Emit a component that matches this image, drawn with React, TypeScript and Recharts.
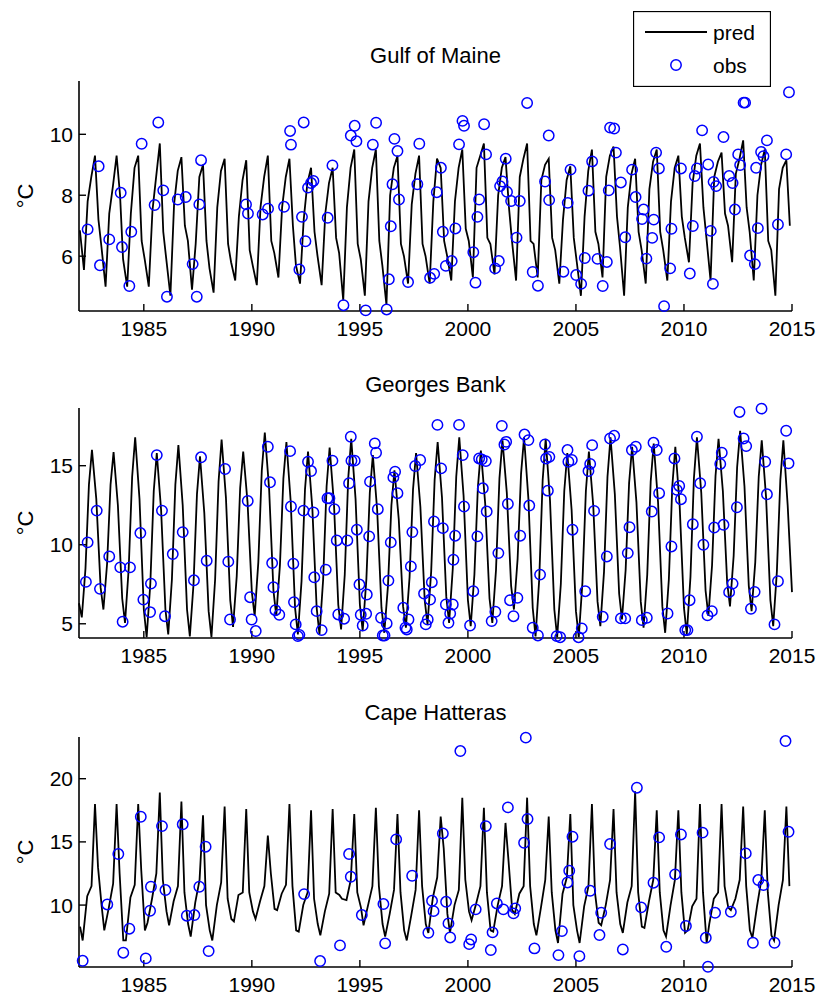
import React from "react";
import { ComposedChart, Line, Scatter, XAxis, YAxis, Legend } from "recharts";

const FONT = '"Liberation Sans", Arial, Helvetica, sans-serif';

const yearTicks = [1985, 1990, 1995, 2000, 2005, 2010, 2015];

// sample times inside each year (fraction of year) for the pred curves
const gomMonths = [0.04, 0.23, 0.4, 0.57, 0.74, 0.9];
const gbMonths = [0.0, 0.13, 0.3, 0.46, 0.6, 0.8];
const chMonths = [0.05, 0.17, 0.38, 0.58, 0.74, 0.88];

// Gulf of Maine, predicted (6 samples per year, 1982-2014)
const gomPred = [
  6.85, 5.55, 7.8, 8.6, 9.3, 7.2,
  6.3, 5.0, 7.4, 8.3, 9.3, 8.0,
  5.9, 5.0, 7.4, 8.9, 9.3, 6.5,
  5.9, 5.0, 7.5, 8.6, 9.7, 6.8,
  5.9, 4.7, 7.7, 8.8, 9.25, 7.0,
  6.5, 4.9, 6.4, 8.6, 9.0, 6.5,
  5.6, 4.8, 7.6, 8.8, 9.2, 6.4,
  5.8, 5.2, 7.3, 8.5, 9.15, 6.2,
  5.7, 5.05, 7.6, 8.6, 9.3, 6.5,
  6.1, 5.3, 7.6, 8.6, 9.2, 7.0,
  5.7, 5.1, 7.2, 8.4, 8.9, 6.8,
  6.0, 5.05, 7.4, 8.4, 8.9, 6.6,
  6.1, 4.55, 7.6, 8.9, 9.5, 6.4,
  5.9, 4.7, 7.8, 8.9, 9.5, 6.5,
  5.7, 4.4, 8.0, 8.9, 9.3, 6.4,
  6.0, 5.1, 7.7, 8.7, 9.3, 6.4,
  6.0, 5.1, 7.8, 9.2, 8.9, 6.5,
  6.0, 5.2, 7.8, 8.9, 9.5, 6.9,
  6.5, 5.3, 8.9, 9.3, 9.7, 6.6,
  6.4, 5.4, 8.0, 8.9, 9.25, 7.6,
  6.5, 5.2, 8.6, 9.2, 9.7, 6.5,
  6.4, 5.3, 8.5, 9.0, 9.2, 6.6,
  6.2, 5.1, 7.2, 8.5, 8.95, 6.6,
  5.8, 4.7, 7.3, 8.8, 9.5, 6.8,
  6.4, 5.3, 8.6, 9.3, 9.6, 7.3,
  6.3, 4.7, 7.6, 8.7, 9.2, 6.8,
  6.2, 5.1, 8.2, 9.1, 9.5, 6.8,
  6.2, 5.2, 7.8, 8.9, 9.3, 7.3,
  6.6, 5.8, 8.4, 9.3, 9.7, 7.6,
  6.6, 5.2, 8.6, 9.1, 9.4, 7.4,
  7.0, 5.8, 8.7, 9.2, 9.8, 7.6,
  6.8, 5.2, 8.0, 9.0, 9.5, 6.5,
  6.2, 4.7, 8.2, 8.9, 9.15, 7.0,
];

// Georges Bank, predicted (last value is Jan 2015)
const gbPred = [
  6.3, 5.4, 8.5, 13.8, 16.0, 12.9,
  7.3, 5.9, 8.8, 13.8, 15.86, 12.5,
  6.6, 5.06, 8.5, 14.3, 16.8, 12.9,
  5.9, 4.15, 7.5, 13.4, 15.8, 12.2,
  5.9, 4.33, 7.8, 13.8, 16.3, 12.5,
  5.9, 4.2, 7.5, 13.2, 15.6, 12.0,
  5.8, 4.15, 7.8, 14.0, 16.66, 13.0,
  6.5, 4.8, 8.0, 13.6, 15.9, 12.7,
  7.0, 5.5, 8.9, 14.7, 17.1, 13.5,
  7.1, 5.5, 8.7, 14.2, 16.5, 12.7,
  6.0, 4.33, 7.7, 13.5, 15.9, 12.3,
  6.0, 4.33, 7.8, 13.7, 16.15, 12.6,
  6.2, 4.64, 8.1, 14.2, 16.7, 12.9,
  6.2, 4.54, 7.8, 13.3, 15.67, 12.2,
  6.0, 4.43, 7.4, 12.5, 14.7, 11.6,
  6.1, 4.75, 7.95, 13.5, 15.8, 12.4,
  6.5, 4.96, 8.3, 14.1, 16.5, 13.0,
  6.7, 5.06, 8.5, 14.3, 16.8, 13.1,
  6.5, 4.85, 8.1, 13.6, 15.95, 12.6,
  6.6, 5.06, 8.4, 14.2, 16.6, 13.3,
  7.4, 5.9, 9.1, 14.5, 16.8, 12.9,
  6.0, 4.2, 7.8, 14.1, 16.7, 12.8,
  5.9, 4.15, 7.5, 13.4, 15.8, 12.2,
  5.8, 4.15, 7.6, 13.4, 15.9, 12.5,
  6.4, 4.85, 8.3, 14.3, 16.8, 13.2,
  6.9, 5.27, 8.4, 13.9, 16.2, 12.7,
  6.4, 4.75, 8.1, 14.0, 16.4, 12.7,
  6.1, 4.43, 7.8, 13.7, 16.2, 12.5,
  6.0, 4.33, 7.95, 14.2, 16.8, 13.3,
  7.1, 5.5, 8.7, 14.35, 16.7, 13.4,
  7.6, 6.1, 9.3, 14.9, 17.2, 13.7,
  7.4, 5.8, 8.9, 14.3, 16.6, 13.0,
  6.5, 4.85, 8.3, 14.1, 16.6, 12.5,
  7.0,
];

// Cape Hatteras, predicted
const chPred = [
  8.3, 7.2, 10.7, 11.5, 18.0, 13.0,
  9.9, 8.0, 9.8, 11.7, 18.0, 12.5,
  7.2, 7.2, 10.6, 11.6, 18.0, 12.8,
  8.0, 8.6, 10.5, 12.5, 18.9, 12.0,
  9.5, 8.4, 10.3, 11.5, 18.2, 11.0,
  8.5, 7.5, 10.2, 12.0, 17.1, 10.0,
  8.0, 7.2, 10.0, 11.8, 17.8, 10.5,
  8.9, 8.7, 10.8, 11.0, 17.6, 11.0,
  9.5, 8.9, 10.3, 11.5, 15.5, 12.5,
  9.7, 9.6, 10.9, 11.6, 18.0, 11.5,
  8.0, 7.9, 10.0, 11.0, 17.5, 10.5,
  8.5, 7.6, 9.5, 10.9, 17.6, 11.0,
  10.8, 10.5, 10.4, 12.0, 17.2, 11.0,
  9.8, 8.4, 10.0, 11.5, 17.7, 11.5,
  8.5, 7.5, 9.3, 11.2, 17.2, 11.0,
  8.0, 7.2, 9.2, 11.2, 17.5, 11.5,
  8.5, 7.8, 10.6, 12.2, 17.0, 14.5,
  9.3, 7.8, 10.0, 11.2, 18.5, 12.0,
  9.5, 8.8, 10.1, 11.5, 17.7, 11.0,
  8.0, 7.9, 10.0, 11.5, 16.5, 13.5,
  9.6, 9.3, 10.9, 11.5, 18.5, 11.5,
  8.5, 7.6, 9.8, 12.0, 17.0, 11.0,
  8.0, 7.0, 10.9, 12.2, 17.2, 10.0,
  8.0, 7.0, 9.9, 11.5, 18.0, 11.0,
  8.6, 8.4, 10.0, 12.0, 17.6, 11.0,
  8.5, 7.8, 10.2, 11.5, 19.0, 11.0,
  8.3, 8.2, 10.3, 12.0, 17.5, 11.0,
  8.0, 7.5, 10.0, 12.0, 17.5, 11.0,
  7.8, 8.0, 9.9, 10.5, 18.0, 11.0,
  7.0, 8.5, 10.5, 11.0, 18.0, 11.5,
  9.8, 9.6, 10.5, 12.0, 17.8, 11.5,
  8.0, 7.4, 9.9, 12.0, 17.5, 11.0,
  7.6, 7.2, 10.0, 12.0, 17.8, 11.5,
];

// observations: [decimal year, degC]
const gomObs = [
  [1982.4, 6.88], [1982.91, 8.95], [1982.97, 5.7], [1983.4, 6.55], [1983.93, 8.08], [1983.99, 6.3],
  [1984.33, 5.02], [1984.42, 6.8], [1984.9, 9.69], [1985.5, 7.68], [1985.67, 10.39], [1985.9, 8.16],
  [1986.07, 4.67], [1986.57, 7.86], [1986.94, 7.94], [1987.26, 5.74], [1987.45, 4.67], [1987.57, 7.7],
  [1987.65, 9.15], [1989.73, 7.7], [1989.82, 7.4], [1990.5, 7.37], [1990.75, 7.56], [1991.49, 7.62],
  [1991.77, 10.11], [1991.81, 9.66], [1992.2, 5.56], [1992.32, 7.29], [1992.4, 10.39], [1992.48, 6.49],
  [1992.6, 8.25], [1992.74, 8.4], [1992.85, 8.47], [1993.51, 7.26], [1993.73, 8.98], [1994.24, 4.39],
  [1994.58, 9.96], [1994.76, 10.28], [1994.84, 9.77], [1995.27, 4.22], [1995.6, 9.66], [1995.75, 10.38],
  [1996.24, 4.25], [1996.34, 5.24], [1996.43, 6.98], [1996.51, 8.36], [1996.6, 9.85], [1996.74, 9.45],
  [1996.81, 7.86], [1997.23, 5.15], [1997.66, 8.36], [1997.75, 9.69], [1998.25, 5.29], [1998.44, 5.42],
  [1998.56, 8.1], [1998.75, 8.9], [1998.84, 6.8], [1998.98, 5.68], [1999.25, 5.84], [1999.42, 6.91],
  [1999.59, 9.67], [1999.75, 10.44], [1999.82, 10.28], [2000.25, 6.13], [2000.35, 5.13], [2000.44, 7.29],
  [2000.52, 7.86], [2000.75, 10.33], [2000.84, 9.34], [2001.26, 5.6], [2001.43, 5.84], [2001.49, 8.3],
  [2001.6, 8.45], [2001.75, 9.2], [2001.81, 8.11], [2002.0, 7.81], [2002.25, 6.61], [2002.4, 7.81],
  [2002.74, 11.03], [2003.0, 5.48], [2003.24, 5.03], [2003.57, 8.45], [2003.74, 9.96], [2003.76, 7.84],
  [2004.42, 5.49], [2004.62, 7.75], [2004.75, 8.84], [2005.01, 5.38], [2005.24, 5.09], [2005.41, 5.94],
  [2005.58, 8.15], [2005.75, 9.11], [2006.0, 5.91], [2006.24, 5.02], [2006.43, 5.81], [2006.52, 8.16],
  [2006.58, 10.22], [2006.77, 10.19], [2006.85, 9.4], [2007.08, 8.42], [2007.28, 6.62], [2007.6, 8.84],
  [2007.76, 7.94], [2008.13, 7.53], [2008.06, 7.22], [2008.6, 7.2], [2008.53, 6.6], [2008.26, 5.92],
  [2008.71, 9.4], [2008.84, 8.88], [2009.08, 4.36], [2009.36, 5.6], [2009.42, 6.9], [2009.86, 8.88],
  [2010.27, 5.43], [2010.41, 6.99], [2010.5, 8.63], [2010.6, 8.88], [2010.84, 10.13], [2011.12, 9.01],
  [2011.24, 6.83], [2011.34, 5.09], [2011.37, 8.44], [2011.49, 8.3], [2011.83, 9.91], [2012.09, 8.63],
  [2012.25, 8.4], [2012.36, 7.53], [2012.51, 9.34], [2012.6, 8.99], [2012.76, 11.04], [2012.83, 11.04],
  [2013.06, 6.02], [2013.28, 5.74], [2013.42, 6.92], [2013.34, 8.9], [2013.57, 9.42], [2013.68, 9.28],
  [2013.84, 9.8], [2014.35, 7.04], [2014.73, 9.34], [2014.86, 11.38],
];

const gbObs = [
  [1982.32, 7.65], [1982.4, 10.15], [1982.82, 12.16], [1982.97, 7.21], [1983.4, 9.26], [1983.91, 8.57],
  [1984.02, 5.13], [1984.36, 8.57], [1984.84, 10.74], [1984.98, 6.53], [1985.29, 5.74], [1985.33, 7.54],
  [1985.6, 15.67], [1985.84, 12.16], [1985.98, 5.48], [1986.34, 9.41], [1986.8, 10.8], [1987.32, 7.75],
  [1987.65, 15.53], [1987.91, 8.99], [1988.76, 14.79], [1988.91, 8.93], [1988.99, 5.27], [1989.81, 12.77],
  [1989.92, 6.68], [1989.99, 5.27], [1990.18, 4.54], [1990.74, 16.2], [1990.84, 13.95], [1990.94, 8.84],
  [1991.0, 7.31], [1991.09, 5.86], [1991.27, 5.57], [1991.77, 15.92], [1991.81, 12.42], [1991.92, 8.8],
  [1991.95, 6.37], [1992.03, 4.96], [1992.13, 4.22], [1992.2, 4.3], [1992.39, 12.16], [1992.6, 15.25],
  [1992.74, 14.66], [1992.85, 12.04], [1992.89, 7.94], [1993.0, 5.8], [1993.23, 4.6], [1993.42, 8.42],
  [1993.5, 12.94], [1993.59, 12.94], [1993.73, 15.32], [1993.82, 12.25], [1993.93, 10.27], [1994.0, 5.59],
  [1994.27, 5.32], [1994.42, 10.27], [1994.5, 13.89], [1994.58, 16.83], [1994.61, 15.32], [1994.76, 15.32],
  [1994.86, 10.95], [1994.98, 7.48], [1995.04, 5.57], [1995.13, 4.89], [1995.29, 5.63], [1995.32, 6.85],
  [1995.43, 10.53], [1995.47, 13.99], [1995.69, 16.41], [1995.75, 15.82], [1995.83, 12.25], [1995.98, 5.38],
  [1996.06, 4.26], [1996.14, 4.26], [1996.24, 5.02], [1996.32, 7.73], [1996.43, 10.15], [1996.55, 14.26],
  [1996.63, 14.62], [1996.74, 13.26], [1997.01, 6.01], [1997.11, 4.75], [1997.17, 4.64], [1997.25, 5.27],
  [1997.36, 8.63], [1997.43, 10.8], [1997.56, 14.98], [1997.79, 15.36], [1997.97, 6.91], [1998.05, 4.96],
  [1998.14, 5.27], [1998.25, 6.53], [1998.33, 7.63], [1998.43, 11.47], [1998.59, 17.58], [1998.76, 14.83],
  [1998.84, 11.05], [1998.98, 6.22], [1999.1, 5.06], [1999.18, 5.65], [1999.3, 6.22], [1999.33, 9.05],
  [1999.41, 10.57], [1999.59, 17.58], [1999.76, 15.67], [1999.82, 12.42], [2000.1, 4.89], [2000.25, 7.06],
  [2000.44, 10.53], [2000.52, 15.46], [2000.64, 15.4], [2000.69, 13.57], [2000.83, 15.29], [2000.87, 12.1],
  [2001.1, 5.17], [2001.27, 5.76], [2001.41, 9.47], [2001.57, 17.52], [2001.69, 16.34], [2001.77, 16.51],
  [2001.85, 12.58], [2001.95, 6.49], [2002.11, 5.48], [2002.29, 6.64], [2002.42, 10.57], [2002.62, 16.97],
  [2002.8, 16.62], [2002.84, 12.48], [2003.0, 4.75], [2003.24, 4.26], [2003.34, 8.11], [2003.57, 16.34],
  [2003.62, 15.46], [2003.7, 13.42], [2003.77, 15.56], [2004.11, 4.22], [2004.27, 4.15], [2004.61, 15.99],
  [2004.65, 15.25], [2004.81, 15.36], [2004.84, 10.95], [2005.12, 4.15], [2005.27, 4.71], [2005.43, 7.06],
  [2005.58, 14.66], [2005.66, 15.11], [2005.75, 16.3], [2005.84, 12.14], [2006.24, 5.44], [2006.43, 9.26],
  [2006.58, 16.72], [2006.77, 16.89], [2007.08, 5.34], [2007.28, 5.34], [2007.4, 9.47], [2007.48, 11.11],
  [2007.59, 15.99], [2007.77, 16.2], [2008.05, 5.23], [2008.28, 5.38], [2008.51, 12.1], [2008.59, 16.45],
  [2008.74, 15.99], [2008.85, 13.26], [2009.24, 5.65], [2009.42, 9.89], [2009.56, 15.46], [2009.67, 13.47],
  [2009.78, 13.72], [2009.86, 12.88], [2010.06, 4.6], [2010.16, 4.6], [2010.26, 6.49], [2010.41, 11.3],
  [2010.6, 16.83], [2010.75, 13.89], [2010.9, 10.0], [2011.09, 5.53], [2011.29, 5.8], [2011.4, 11.09],
  [2011.68, 15.11], [2011.75, 15.82], [2011.83, 11.26], [2012.09, 7.0], [2012.25, 7.54], [2012.45, 12.37],
  [2012.57, 18.4], [2012.76, 16.72], [2012.88, 16.24], [2013.1, 5.95], [2013.27, 7.02], [2013.59, 18.61],
  [2013.76, 15.25], [2013.84, 13.19], [2014.19, 4.96], [2014.35, 7.69], [2014.73, 17.21], [2014.84, 15.15],
];

const chObs = [
  [1982.17, 5.59], [1983.31, 10.05], [1983.82, 14.04], [1984.05, 6.23], [1984.33, 8.13], [1984.86, 16.99],
  [1985.09, 5.78], [1985.29, 9.55], [1985.33, 11.45], [1985.84, 16.25], [1986.0, 11.19], [1986.8, 16.39],
  [1986.99, 9.16], [1987.34, 9.21], [1987.57, 11.45], [1987.86, 14.62], [1988.0, 6.36], [1992.42, 10.87],
  [1993.16, 5.57], [1994.08, 6.81], [1994.5, 14.04], [1994.58, 12.24], [1995.09, 9.21], [1996.09, 10.08],
  [1996.17, 6.97], [1996.68, 15.2], [1997.42, 12.32], [1998.17, 7.81], [1998.34, 10.34], [1998.41, 9.52],
  [1998.84, 15.67], [1998.99, 10.26], [1999.1, 8.55], [1999.18, 7.44], [1999.65, 22.19], [2000.06, 6.91],
  [2000.15, 7.28], [2000.36, 9.66], [2000.83, 16.25], [2001.06, 6.44], [2001.14, 7.84], [2001.34, 10.13],
  [2001.64, 9.66], [2001.85, 17.73], [2002.11, 9.34], [2002.19, 9.74], [2002.6, 14.93], [2002.68, 23.25],
  [2002.76, 16.81], [2003.08, 6.57], [2004.19, 6.04], [2004.35, 7.94], [2004.61, 11.79], [2004.69, 12.72],
  [2004.84, 15.41], [2005.16, 5.96], [2005.66, 11.13], [2006.09, 7.63], [2006.17, 9.39], [2006.58, 14.83],
  [2007.17, 6.49], [2007.82, 19.29], [2008.02, 9.82], [2008.59, 11.77], [2008.85, 15.36], [2009.18, 6.7],
  [2009.59, 12.43], [2009.86, 15.59], [2010.09, 8.34], [2010.86, 15.73], [2011.01, 7.41], [2011.11, 5.12],
  [2011.44, 9.39], [2012.17, 9.47], [2012.86, 14.09], [2013.19, 7.02], [2013.44, 11.98], [2013.68, 11.58],
  [2014.19, 7.02], [2014.7, 22.98], [2014.84, 15.8],
];

type Pt = { t: number; v: number };

function toSeries(values: number[], months: number[]): Pt[] {
  const n = months.length;
  return values.map((v, i) => ({ t: 1982 + Math.floor(i / n) + months[i % n], v }));
}

const toPoints = (obs: number[][]): Pt[] => obs.map(([t, v]) => ({ t, v }));

function ObsMarker(props: any) {
  const { cx, cy } = props;
  if (cx == null || cy == null) return null;
  return <circle cx={cx} cy={cy} r={5.2} fill="none" stroke="#0000ff" strokeWidth={1.5} />;
}

function LegendBox() {
  return (
    <svg width={138} height={76} style={{ display: "block" }}>
      <rect x={0.5} y={0.5} width={137} height={75} fill="#fff" stroke="#000" strokeWidth={1.3} />
      <line x1={12} y1={21} x2={74} y2={21} stroke="#000" strokeWidth={1.8} />
      <text x={80} y={29} fontSize={21} fontFamily={FONT} fill="#000">pred</text>
      <circle cx={43} cy={54} r={5.2} fill="none" stroke="#0000ff" strokeWidth={1.5} />
      <text x={80} y={62} fontSize={21} fontFamily={FONT} fill="#000">obs</text>
    </svg>
  );
}

function UnitLabel(props: any) {
  const vb = props.viewBox || { y: 0, height: 0 };
  const cy = vb.y + vb.height / 2;
  return (
    <text x={33} y={cy} transform={`rotate(-90 33 ${cy})`} textAnchor="middle" fontSize={22} fontFamily={FONT} fill="#000">
      °C
    </text>
  );
}

type PanelProps = {
  plotTop: number;
  pred: Pt[];
  obs: Pt[];
  domain: [number, number];
  ticks: number[];
  legend?: boolean;
};

const tickStyle = { fill: "#000", fontSize: 21, fontFamily: FONT };

function Panel({ plotTop, pred, obs, domain, ticks, legend }: PanelProps) {
  const top = plotTop - 40;
  return (
    <div style={{ position: "absolute", left: 0, top }}>
      <ComposedChart width={822} height={305} margin={{ top: 40, right: 30, bottom: 0, left: 19 }}>
        <XAxis
          type="number"
          dataKey="t"
          domain={[1982, 2015]}
          ticks={yearTicks}
          interval={0}
          height={35}
          tickSize={-7}
          tickMargin={17}
          axisLine={{ stroke: "#000", strokeWidth: 1.6 }}
          tickLine={{ stroke: "#000", strokeWidth: 1.4 }}
          tick={tickStyle}
        />
        <YAxis
          type="number"
          dataKey="v"
          domain={domain}
          ticks={ticks}
          interval={0}
          width={60}
          tickSize={-7}
          tickMargin={13}
          axisLine={{ stroke: "#000", strokeWidth: 1.6 }}
          tickLine={{ stroke: "#000", strokeWidth: 1.4 }}
          tick={tickStyle}
          label={<UnitLabel />}
        />
        <Line
          data={pred}
          dataKey="v"
          type="linear"
          stroke="#000"
          strokeWidth={1.8}
          dot={false}
          activeDot={false}
          legendType="none"
          isAnimationActive={false}
        />
        <Scatter data={obs} dataKey="v" shape={ObsMarker} legendType="none" isAnimationActive={false} />
        {legend && (
          <Legend
            layout="horizontal"
            align="center"
            verticalAlign="middle"
            content={() => <LegendBox />}
            wrapperStyle={{ position: "absolute", left: 633, top: 11 - top, width: 138, height: 76 }}
          />
        )}
      </ComposedChart>
    </div>
  );
}

const titles = [
  { text: "Gulf of Maine", y: 63.3 },
  { text: "Georges Bank", y: 391.6 },
  { text: "Cape Hatteras", y: 720 },
];

export default function App() {
  return (
    <div style={{ position: "absolute", left: 0, top: 0, width: 822, height: 997, overflow: "hidden", background: "#fff" }}>
      <Panel plotTop={81} pred={toSeries(gomPred, gomMonths)} obs={toPoints(gomObs)} domain={[4.2, 11.75]} ticks={[6, 8, 10]} legend />
      <Panel plotTop={408} pred={toSeries(gbPred, gbMonths)} obs={toPoints(gbObs)} domain={[4.1, 18.65]} ticks={[5, 10, 15]} />
      <Panel plotTop={737} pred={toSeries(chPred, chMonths)} obs={toPoints(chObs)} domain={[5.1, 23.3]} ticks={[10, 15, 20]} />
      <svg width={822} height={997} style={{ position: "absolute", left: 0, top: 0, pointerEvents: "none" }}>
        {titles.map((t) => (
          <text key={t.text} x={435.5} y={t.y} textAnchor="middle" fontSize={22} fontFamily={FONT} fill="#000">
            {t.text}
          </text>
        ))}
      </svg>
    </div>
  );
}
